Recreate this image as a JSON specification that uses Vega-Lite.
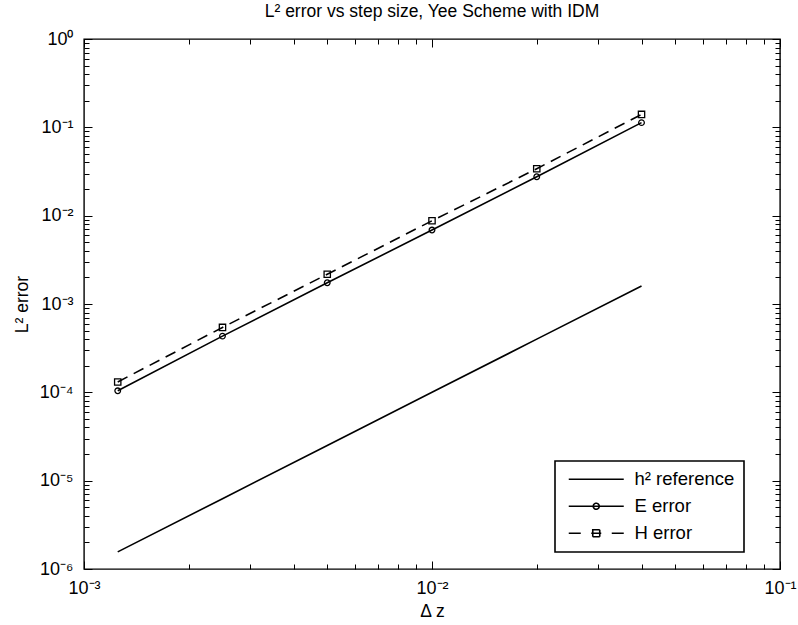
{
  "$schema": "https://vega.github.io/schema/vega-lite/v6.json",
  "width": 696,
  "height": 530,
  "autosize": {"type": "none"},
  "padding": {"left": 84, "top": 39, "right": 18, "bottom": 56},
  "background": "white",
  "title": {"text": "L² error vs step size, Yee Scheme with IDM", "fontSize": 17.5, "fontWeight": "normal", "font": "Liberation Sans", "color": "black", "frame": "group", "anchor": "middle", "offset": -4, "baseline": "alphabetic"},
  "data": {"values": [
    {"series": "h² reference", "x": 0.00125, "y": 1.5625e-6},
    {"series": "h² reference", "x": 0.0025, "y": 6.25e-6},
    {"series": "h² reference", "x": 0.005, "y": 2.5e-5},
    {"series": "h² reference", "x": 0.01, "y": 1e-4},
    {"series": "h² reference", "x": 0.02, "y": 4e-4},
    {"series": "h² reference", "x": 0.04, "y": 1.6e-3},
    {"series": "E error", "x": 0.00125, "y": 1.04e-4},
    {"series": "E error", "x": 0.0025, "y": 4.33e-4},
    {"series": "E error", "x": 0.005, "y": 1.74e-3},
    {"series": "E error", "x": 0.01, "y": 6.87e-3},
    {"series": "E error", "x": 0.02, "y": 2.76e-2},
    {"series": "E error", "x": 0.04, "y": 1.13e-1},
    {"series": "H error", "x": 0.00125, "y": 1.31e-4},
    {"series": "H error", "x": 0.0025, "y": 5.43e-4},
    {"series": "H error", "x": 0.005, "y": 2.17e-3},
    {"series": "H error", "x": 0.01, "y": 8.75e-3},
    {"series": "H error", "x": 0.02, "y": 3.4e-2},
    {"series": "H error", "x": 0.04, "y": 1.4e-1}
  ]},
  "resolve": {"axis": {"x": "independent", "y": "independent"}},
  "layer": [
    {
      "transform": [{"filter": "datum.series === 'h² reference'"}],
      "mark": {"type": "line", "strokeWidth": 1.6},
      "encoding": {
        "x": {"field": "x", "type": "quantitative", "scale": {"type": "log", "domain": [0.001, 0.1], "nice": false, "zero": false},
          "axis": {"orient": "bottom", "values": [0.001, 0.01, 0.1], "ticks": false, "labelExpr": "datum.value < 0.005 ? '10⁻³' : datum.value < 0.05 ? '10⁻²' : '10⁻¹'", "labelPadding": 10, "labelFontSize": 18, "labelFlush": false, "labelOverlap": false, "title": "Δ z", "titleFontSize": 17.5, "titlePadding": 5}},
        "y": {"field": "y", "type": "quantitative", "scale": {"type": "log", "domain": [1e-6, 1], "nice": false, "zero": false},
          "axis": {"orient": "left", "values": [1e-6, 1e-5, 1e-4, 1e-3, 1e-2, 1e-1, 1], "ticks": false, "labelExpr": "datum.value > 0.5 ? '10⁰' : datum.value > 0.05 ? '10⁻¹' : datum.value > 0.005 ? '10⁻²' : datum.value > 0.0005 ? '10⁻³' : datum.value > 0.00005 ? '10⁻⁴' : datum.value > 0.000005 ? '10⁻⁵' : '10⁻⁶'", "labelPadding": 11, "labelFontSize": 18, "labelFlush": false, "labelOverlap": false, "labelBaseline": "middle", "title": "L² error", "titleFontSize": 17.5, "titlePadding": 8}},
        "color": {"field": "series", "type": "nominal",
          "scale": {"domain": ["h² reference", "E error", "H error"], "range": ["black", "black", "black"]},
          "legend": {"orient": "none", "legendX": 471, "legendY": 422, "title": null, "symbolSize": 100, "labelOffset": 52, "labelFontSize": 18.5, "labelFont": "Liberation Sans", "labelColor": "black", "padding": 9, "rowPadding": 8, "strokeColor": "black", "fillColor": "white", "symbolStrokeWidth": 1.6, "labelLimit": 300,
            "encode": {"symbols": {"update": {
              "shape": {"signal": "datum.value === 'E error' ? 'M-0.9,0H10.1M4,0A0.6,0.6 0 1,1 5.2,0A0.6,0.6 0 1,1 4,0Z' : datum.value === 'H error' ? 'M-0.9,0H1.5M7.7,0H10.1M3.6,0H5.6M3.9,-0.7H5.3V0.7H3.9Z' : 'M-0.9,0H10.1'"},
              "fill": {"value": "transparent"},
              "stroke": {"value": "black"},
              "strokeWidth": {"value": 1.6},
              "strokeDash": {"value": [1, 0]}
            }}}}
        }
      }
    },
    {
      "transform": [{"filter": "datum.series === 'E error'"}],
      "mark": {"type": "line", "strokeWidth": 1.6},
      "encoding": {
        "x": {"field": "x", "type": "quantitative", "scale": {"type": "log", "domain": [0.001, 0.1], "nice": false, "zero": false},
          "axis": {"orient": "bottom", "values": [0.001, 0.01, 0.1], "labels": false, "ticks": true, "tickSize": -8, "tickWidth": 1, "title": null}},
        "y": {"field": "y", "type": "quantitative", "scale": {"type": "log", "domain": [1e-6, 1], "nice": false, "zero": false},
          "axis": {"orient": "left", "values": [1e-6, 1e-5, 1e-4, 1e-3, 1e-2, 1e-1, 1], "labels": false, "ticks": true, "tickSize": -8, "tickWidth": 1, "title": null}},
        "color": {"field": "series", "type": "nominal"}
      }
    },
    {
      "transform": [{"filter": "datum.series === 'H error'"}],
      "mark": {"type": "line", "strokeWidth": 1.6, "strokeDash": [11, 7]},
      "encoding": {
        "x": {"field": "x", "type": "quantitative", "scale": {"type": "log", "domain": [0.001, 0.1], "nice": false, "zero": false},
          "axis": {"orient": "top", "values": [0.001, 0.01, 0.1], "labels": false, "ticks": true, "tickSize": -8, "tickWidth": 1, "title": null}},
        "y": {"field": "y", "type": "quantitative", "scale": {"type": "log", "domain": [1e-6, 1], "nice": false, "zero": false},
          "axis": {"orient": "right", "values": [1e-6, 1e-5, 1e-4, 1e-3, 1e-2, 1e-1, 1], "labels": false, "ticks": true, "tickSize": -8, "tickWidth": 1, "title": null}},
        "color": {"field": "series", "type": "nominal"}
      }
    },
    {
      "transform": [{"filter": "datum.series === 'E error'"}],
      "mark": {"type": "point", "shape": "circle", "filled": false, "size": 32, "strokeWidth": 1.3, "color": "black", "opacity": 1},
      "encoding": {
        "x": {"field": "x", "type": "quantitative", "scale": {"type": "log", "domain": [0.001, 0.1], "nice": false, "zero": false},
          "axis": {"orient": "bottom", "values": [0.002, 0.003, 0.004, 0.005, 0.006, 0.007, 0.008, 0.009, 0.02, 0.03, 0.04, 0.05, 0.06, 0.07, 0.08, 0.09], "labels": false, "ticks": true, "tickSize": -5, "tickWidth": 1, "title": null}},
        "y": {"field": "y", "type": "quantitative", "scale": {"type": "log", "domain": [1e-6, 1], "nice": false, "zero": false},
          "axis": {"orient": "left", "values": [2e-6, 3e-6, 4e-6, 5e-6, 6e-6, 7e-6, 8e-6, 9e-6, 2e-5, 3e-5, 4e-5, 5e-5, 6e-5, 7e-5, 8e-5, 9e-5, 2e-4, 3e-4, 4e-4, 5e-4, 6e-4, 7e-4, 8e-4, 9e-4, 2e-3, 3e-3, 4e-3, 5e-3, 6e-3, 7e-3, 8e-3, 9e-3, 2e-2, 3e-2, 4e-2, 5e-2, 6e-2, 7e-2, 8e-2, 9e-2, 2e-1, 3e-1, 4e-1, 5e-1, 6e-1, 7e-1, 8e-1, 9e-1], "labels": false, "ticks": true, "tickSize": -5, "tickWidth": 1, "title": null}}
      }
    },
    {
      "transform": [{"filter": "datum.series === 'H error'"}],
      "mark": {"type": "point", "shape": "square", "filled": false, "size": 40, "strokeWidth": 1.3, "color": "black", "opacity": 1},
      "encoding": {
        "x": {"field": "x", "type": "quantitative", "scale": {"type": "log", "domain": [0.001, 0.1], "nice": false, "zero": false},
          "axis": {"orient": "top", "values": [0.002, 0.003, 0.004, 0.005, 0.006, 0.007, 0.008, 0.009, 0.02, 0.03, 0.04, 0.05, 0.06, 0.07, 0.08, 0.09], "labels": false, "ticks": true, "tickSize": -5, "tickWidth": 1, "title": null}},
        "y": {"field": "y", "type": "quantitative", "scale": {"type": "log", "domain": [1e-6, 1], "nice": false, "zero": false},
          "axis": {"orient": "right", "values": [2e-6, 3e-6, 4e-6, 5e-6, 6e-6, 7e-6, 8e-6, 9e-6, 2e-5, 3e-5, 4e-5, 5e-5, 6e-5, 7e-5, 8e-5, 9e-5, 2e-4, 3e-4, 4e-4, 5e-4, 6e-4, 7e-4, 8e-4, 9e-4, 2e-3, 3e-3, 4e-3, 5e-3, 6e-3, 7e-3, 8e-3, 9e-3, 2e-2, 3e-2, 4e-2, 5e-2, 6e-2, 7e-2, 8e-2, 9e-2, 2e-1, 3e-1, 4e-1, 5e-1, 6e-1, 7e-1, 8e-1, 9e-1], "labels": false, "ticks": true, "tickSize": -5, "tickWidth": 1, "title": null}}
      }
    }
  ],
  "config": {
    "font": "Liberation Sans",
    "view": {"stroke": "black", "strokeWidth": 1.4},
    "axis": {"grid": false, "domain": false, "labelFont": "Liberation Sans", "titleFont": "Liberation Sans", "labelColor": "black", "titleColor": "black", "tickColor": "black", "titleFontWeight": "normal"},
    "legend": {"strokeWidth": 1.6}
  }
}
